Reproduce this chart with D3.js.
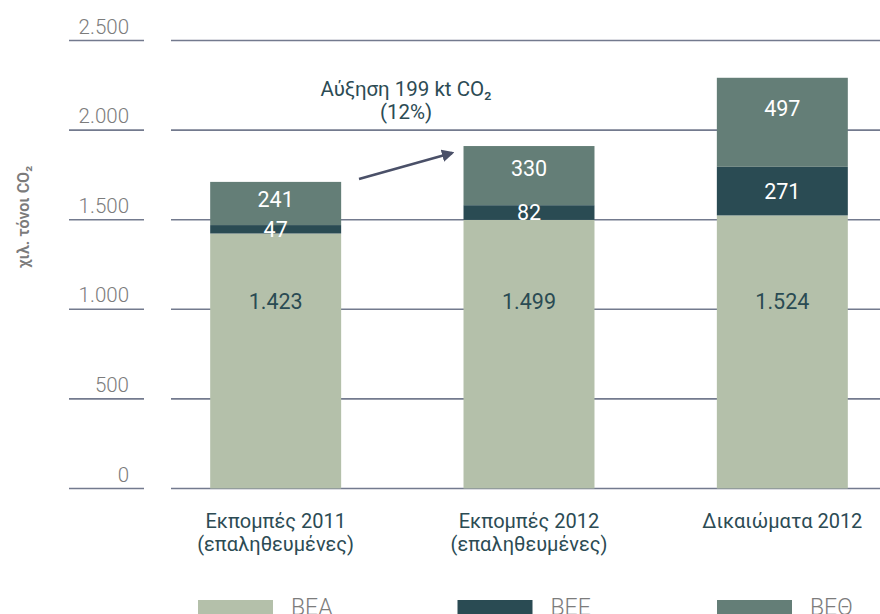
<!DOCTYPE html>
<html>
<head>
<meta charset="utf-8">
<script src="https://cdn.jsdelivr.net/npm/d3@7"></script>
<style>
  body { margin: 0; background: #fff; }
  svg { display: block; font-family: Roboto, "Noto Sans", sans-serif; }
</style>
</head>
<body>
<div id="chart-container"><svg width="880" height="614"></svg></div>
<script>
// data
const categories = [
  ['Εκπομπές 2011', '(επαληθευμένες)'],
  ['Εκπομπές 2012', '(επαληθευμένες)'],
  ['Δικαιώματα 2012'],
];
const seriesNames = ['ΒΕΑ', 'ΒΕΕ', 'ΒΕΘ'];
const beaValues = [1423, 1499, 1524];
const beeValues = [47, 82, 271];
const bethValues = [241, 330, 497];
const yTicks = [0, 500, 1000, 1500, 2000, 2500];
const yTitle = 'χιλ. τόνοι CO₂';
const noteLines = ['Αύξηση 199 kt CO₂', '(12%)'];

const colors = ['#b4c0aa', '#2a4b53', '#647e77'];
const gridColor = '#737a8e';

const svg = d3.select('#chart-container>svg');

const yScale = d3.scaleLinear().domain([0, 2500]).range([488.5, 40.5]);
const xScale = d3.scaleBand()
  .domain(d3.range(categories.length))
  .range([149, 909])
  .paddingInner(0.483)
  .paddingOuter(0.2415);

const fmt = d3.formatLocale({ decimal: ',', thousands: '.', grouping: [3], currency: ['', ''] }).format(',');

// grid lines: short piece under the label + long one across the plot
const grid = svg.append('g');
yTicks.forEach((t) => {
  grid.append('line')
    .attr('x1', 69).attr('x2', 144)
    .attr('y1', yScale(t)).attr('y2', yScale(t))
    .style('stroke', gridColor).style('stroke-width', 1.6);
  grid.append('line')
    .attr('x1', 171).attr('x2', 880)
    .attr('y1', yScale(t)).attr('y2', yScale(t))
    .style('stroke', gridColor).style('stroke-width', 1.6);
  grid.append('text')
    .attr('x', 129)
    .attr('y', yScale(t) - 7)
    .attr('text-anchor', 'end')
    .style('font-size', '20.5px')
    .style('font-weight', 300)
    .style('fill', '#7c7c7c')
    .text(fmt(t));
});

// y title
svg.append('g')
  .attr('transform', `translate(29,217) rotate(270)`)
  .append('text')
  .attr('text-anchor', 'middle')
  .style('font-size', '16px')
  .style('font-weight', 600)
  .style('fill', '#7b7b7b')
  .text(yTitle);

// stacked data
const rows = categories.map((c, i) => ({ i, v: [beaValues[i], beeValues[i], bethValues[i]] }));
const stack = d3.stack().keys([0, 1, 2]).value((d, k) => d.v[k]);
const layers = stack(rows);

const canvas = svg.append('g');
layers.forEach((layer, k) => {
  canvas.selectAll('.bar' + k)
    .data(layer)
    .enter()
    .append('rect')
    .attr('class', 'bar' + k)
    .attr('x', (d) => xScale(d.data.i))
    .attr('width', xScale.bandwidth())
    .attr('y', (d) => yScale(d[1]))
    .attr('height', (d) => yScale(d[0]) - yScale(d[1]))
    .style('fill', colors[k]);
});

// value labels
const cx = (i) => xScale(i) + xScale.bandwidth() / 2;
canvas.selectAll('.lab0')
  .data(layers[0])
  .enter().append('text')
  .attr('x', (d) => cx(d.data.i))
  .attr('y', yScale(1000))
  .attr('text-anchor', 'middle')
  .style('font-size', '21.5px')
  .style('fill', '#2a4b53')
  .text((d) => fmt(d.data.v[0]));
canvas.selectAll('.lab1')
  .data(layers[1])
  .enter().append('text')
  .attr('x', (d) => cx(d.data.i))
  .attr('y', (d) => (yScale(d[0]) + yScale(d[1])) / 2 + 7.5)
  .attr('text-anchor', 'middle')
  .style('font-size', '21.5px')
  .style('fill', '#fff')
  .text((d) => fmt(d.data.v[1]));
canvas.selectAll('.lab2')
  .data(layers[2])
  .enter().append('text')
  .attr('x', (d) => cx(d.data.i))
  .attr('y', (d) => yScale(d[1]) + (yScale(d[0]) - yScale(d[1])) * 0.3 + 12)
  .attr('text-anchor', 'middle')
  .style('font-size', '21.5px')
  .style('fill', '#fff')
  .text((d) => fmt(d.data.v[2]));

// category labels
categories.forEach((lines, i) => {
  const t = svg.append('text')
    .attr('text-anchor', 'middle')
    .style('font-size', '20px')
    .style('fill', '#2c4b54');
  lines.forEach((s, j) => {
    t.append('tspan').attr('x', cx(i)).attr('y', 528 + j * 23).text(s);
  });
});

// annotation + arrow
svg.append('defs').append('marker')
  .attr('id', 'arrow')
  .attr('viewBox', '0 0 10 10')
  .attr('refX', 8).attr('refY', 5)
  .attr('markerWidth', 5).attr('markerHeight', 5)
  .attr('orient', 'auto')
  .append('path')
  .attr('d', 'M0,0 L10,5 L0,10 z')
  .style('fill', '#4a5068');

svg.append('line')
  .attr('x1', 359).attr('y1', 179)
  .attr('x2', 452).attr('y2', 153)
  .style('stroke', '#4a5068')
  .style('stroke-width', 2.5)
  .attr('marker-end', 'url(#arrow)');

const note = svg.append('text')
  .attr('text-anchor', 'middle')
  .style('font-size', '20.5px')
  .style('fill', '#2c4b54');
noteLines.forEach((s, j) => {
  note.append('tspan').attr('x', 406).attr('y', 96 + j * 23).text(s);
});

// legend (cut by the bottom edge, as in the source)
const legend = svg.append('g');
seriesNames.forEach((n, k) => {
  const lx = 198 + k * 259.5;
  legend.append('rect')
    .attr('x', lx).attr('y', 600)
    .attr('width', 75).attr('height', 22)
    .style('fill', colors[k]);
  legend.append('text')
    .attr('x', lx + 93).attr('y', 615)
    .style('font-size', '23px')
    .style('font-weight', 300)
    .style('fill', '#7c7c7c')
    .text(n);
});
</script>
</body>
</html>
